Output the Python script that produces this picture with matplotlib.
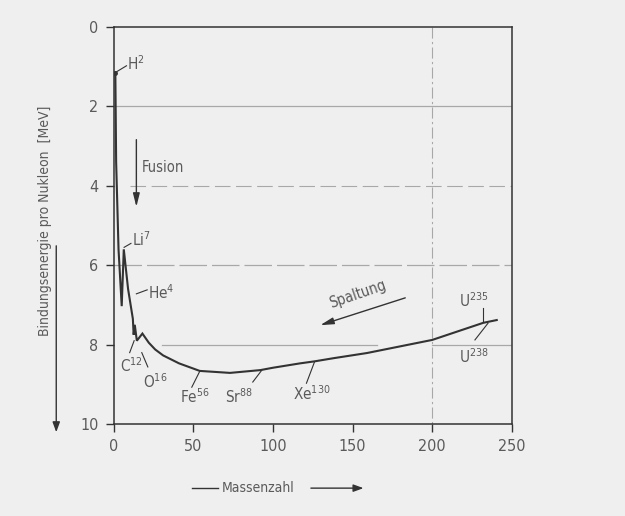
import matplotlib
matplotlib.use('Agg')
import matplotlib.pyplot as plt
from matplotlib import font_manager as fm

# ---------------- data ----------------
mass_number = [1, 1.5, 3, 5, 6.3, 9, 12, 12.5, 13.2, 14.5, 18, 22, 26, 31, 41, 54,
               73, 92, 100, 117, 126, 138, 159, 200, 232, 240.5]
binding_energy = [1.15, 3.4, 5.6, 7.03, 5.6, 6.6, 7.35, 7.75, 7.5, 7.9, 7.72, 7.95,
                  8.12, 8.27, 8.47, 8.66, 8.71, 8.64, 8.58, 8.47, 8.42, 8.34, 8.21,
                  7.88, 7.45, 7.38]

nuclide_labels = ['H$^{2}$', 'Li$^{7}$', 'He$^{4}$', 'C$^{12}$', 'O$^{16}$',
                  'Fe$^{56}$', 'Sr$^{88}$', 'Xe$^{130}$', 'U$^{235}$', 'U$^{238}$']
x_ticks = [0, 50, 100, 150, 200, 250]
y_ticks = [0, 2, 4, 6, 8, 10]

# ---------------- style ----------------
plt.rcParams['font.family'] = ['DejaVu Sans']
plt.rcParams['font.stretch'] = 'condensed'
plt.rcParams['mathtext.fontset'] = 'custom'
plt.rcParams['mathtext.rm'] = 'DejaVu Sans:stretch=condensed'
plt.rcParams['mathtext.default'] = 'regular'

fp = fm.FontProperties(family='DejaVu Sans', stretch='condensed')
fp_path = fm.findfont(fp)
cond = fm.FontProperties(fname=fp_path)

bg = '#efefef'
ink = '#333333'
txt = '#5a5a5a'
grid = '#a8a8a8'

fig = plt.figure(figsize=(6.25, 5.16), dpi=100, facecolor=bg)
ax = fig.add_axes([0.182, 0.178, 0.637, 0.770], facecolor=bg)

ax.set_xlim(0, 250)
ax.set_ylim(10, 0)
ax.set_xticks(x_ticks)
ax.set_yticks(y_ticks)
ax.tick_params(direction='out', length=6, width=1.0, color=ink, labelcolor=txt,
               pad=5)
for lab in ax.get_xticklabels() + ax.get_yticklabels():
    lab.set_fontproperties(cond)
    lab.set_fontsize(11.5)
for s in ax.spines.values():
    s.set_color(ink)
    s.set_linewidth(1.1)

# reference lines
ax.plot([0, 250], [2, 2], color=grid, lw=0.9)
ax.plot([10, 250], [4, 4], color=grid, lw=0.8, dashes=(14, 5))
ax.plot([0, 250], [6, 6], color=grid, lw=0.9, dashes=(22, 4))
ax.plot([30, 165], [8, 8], color=grid, lw=0.9)
ax.plot([200, 250], [8, 8], color=grid, lw=0.9)
ax.plot([200, 200], [0, 10], color=grid, lw=0.8, dashes=(10, 3, 2, 3))

# curve
ax.plot(mass_number, binding_energy, color=ink, lw=1.5, solid_joinstyle='miter')
ax.plot([mass_number[0]], [binding_energy[0]], 'o', color=ink, ms=2.5)

# nuclide annotations
label_pos = [(8.2, 0.92), (11.3, 5.35), (21.4, 6.7), (3.8, 8.54), (18.2, 8.92),
             (41.5, 9.3), (69.7, 9.3), (112.4, 9.22), (217, 6.9), (217, 8.29)]
leaders = [((1, 1.15), (8, 0.98)), ((6.5, 5.55), (10.8, 5.45)),
           ((14.2, 6.72), (21.0, 6.62)), ((10, 8.2), (12.8, 7.9)),
           ((21.4, 8.56), (17.6, 8.2)), ((49, 9.07), (54, 8.67)),
           ((87.3, 8.94), (93, 8.64)), ((121, 8.97), (126, 8.44)),
           ((231.8, 7.08), (231.8, 7.43)), ((235, 7.46), (226.8, 7.88))]
for lab, (tx, ty), (p0, p1) in zip(nuclide_labels, label_pos, leaders):
    ax.text(tx, ty, lab, ha='left', va='center', fontproperties=cond,
            fontsize=11, color=txt)
    ax.plot([p0[0], p1[0]], [p0[1], p1[1]], color=ink, lw=0.8)

# Fusion arrow
ax.annotate('', xy=(14.2, 4.6), xytext=(14.2, 2.77),
            arrowprops=dict(arrowstyle='-|>,head_length=0.8,head_width=0.2',
                            color=ink, lw=1.0))
ax.text(17.6, 3.54, 'Fusion', ha='left', va='center', fontproperties=cond,
        fontsize=10.5, color=txt)

# Spaltung arrow
ax.annotate('', xy=(128, 7.53), xytext=(184.7, 6.8),
            arrowprops=dict(arrowstyle='-|>,head_length=0.8,head_width=0.2',
                            color=ink, lw=1.0))
ax.text(153, 6.72, 'Spaltung', ha='center', va='center', fontproperties=cond,
        fontsize=10.5, color=txt, rotation=19)

# axis labels
fig.text(0.072, 0.572, 'Bindungsenergie pro Nukleon  [MeV]', rotation=90,
         ha='center', va='center', fontproperties=cond, fontsize=10, color=txt)
fig.add_artist(matplotlib.patches.FancyArrowPatch(
    (0.090, 0.529), (0.090, 0.157), transform=fig.transFigure,
    arrowstyle='-|>,head_length=6,head_width=2.2', color=ink, lw=1.0))

fig.text(0.413, 0.054, 'Massenzahl', ha='center', va='center',
         fontproperties=cond, fontsize=10, color=txt)
fig.add_artist(matplotlib.lines.Line2D([0.307, 0.349], [0.054, 0.054],
                                       transform=fig.transFigure, color=ink, lw=1.0))
fig.add_artist(matplotlib.patches.FancyArrowPatch(
    (0.493, 0.054), (0.586, 0.054), transform=fig.transFigure,
    arrowstyle='-|>,head_length=6,head_width=2.2', color=ink, lw=1.0))

fig.savefig('out.png', dpi=100, facecolor=bg)
